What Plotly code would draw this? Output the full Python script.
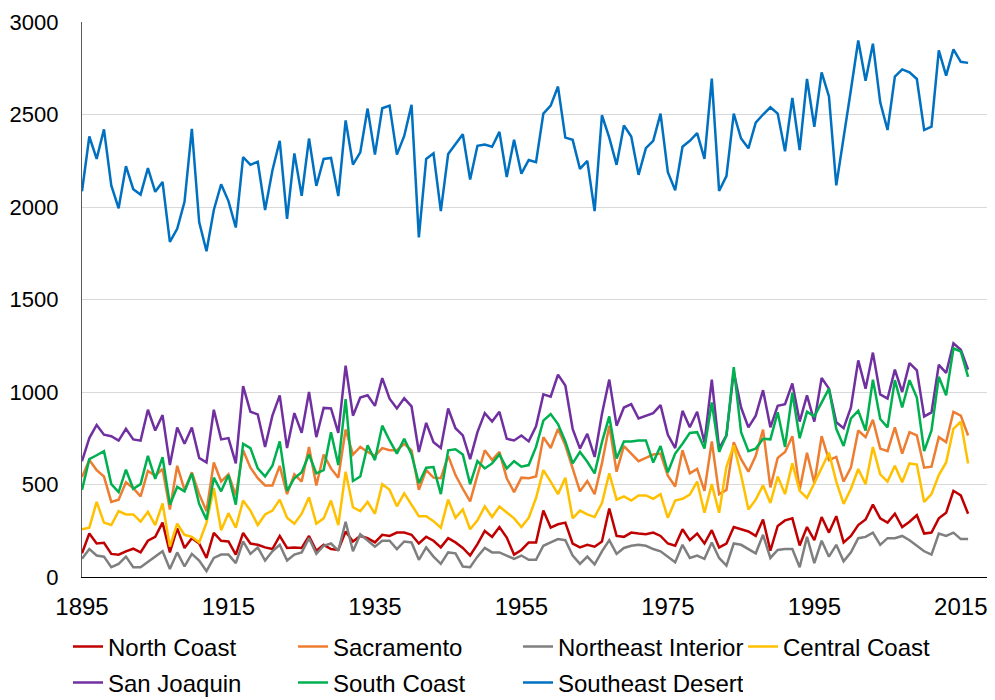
import plotly.graph_objects as go

years = list(range(1895, 2017))

north_coast = [128, 235, 181, 185, 125, 121, 139, 153, 133, 196, 217, 294, 133, 263, 157, 210, 181, 103, 238, 196, 192, 121, 238, 181, 174,
               160, 151, 222, 157, 160, 157, 222, 142, 174, 151, 146, 246, 192, 222, 210, 187, 228, 222, 240, 240, 228, 181, 217, 196, 160,
               210, 187, 157, 116, 178, 249, 217, 270, 213, 121, 146, 187, 187, 359, 267, 285, 294, 181, 160, 174, 164, 192, 370, 222,
               217, 240, 235, 231, 240, 222, 181, 169, 258, 199, 235, 181, 253, 160, 181, 270, 258, 246, 222, 311, 142, 276, 306, 317, 170,
               270, 199, 324, 240, 329, 187, 222, 281, 311, 391, 317, 294, 342, 270, 299, 334, 235, 240, 317, 347, 466, 441, 342]

sacramento = [540, 632, 578, 543, 406, 418, 512, 480, 436, 573, 548, 584, 365, 601, 471, 566, 448, 356, 619, 516, 555, 441, 685, 591, 534,
              495, 495, 601, 448, 555, 516, 703, 495, 662, 587, 537, 797, 662, 703, 676, 655, 697, 685, 685, 720, 685, 471, 578, 537, 534,
              655, 551, 477, 409, 551, 685, 632, 676, 534, 459, 537, 534, 543, 756, 697, 801, 712, 587, 463, 519, 448, 614, 818, 569,
              708, 667, 626, 644, 662, 667, 548, 489, 685, 560, 584, 466, 733, 448, 471, 729, 637, 569, 655, 797, 484, 644, 676, 761, 471,
              672, 507, 761, 632, 649, 516, 591, 792, 756, 850, 694, 680, 809, 667, 783, 765, 591, 596, 756, 729, 893, 872, 765]

northeast_interior = [98, 151, 116, 110, 53, 71, 110, 53, 53, 82, 110, 139, 43, 133, 57, 125, 89, 32, 103, 121, 121, 75, 192, 125, 160,
                      89, 139, 174, 89, 121, 133, 210, 125, 169, 181, 142, 299, 139, 231, 196, 164, 196, 196, 151, 192, 187, 93, 160, 110, 71,
                      133, 128, 57, 53, 110, 157, 133, 133, 116, 98, 116, 93, 93, 169, 187, 205, 199, 116, 71, 110, 68, 139, 199, 125,
                      157, 169, 174, 169, 151, 139, 110, 80, 174, 103, 116, 98, 187, 103, 62, 181, 174, 151, 128, 228, 103, 146, 151, 151, 53,
                      217, 75, 196, 110, 174, 85, 133, 210, 217, 240, 174, 210, 210, 222, 199, 169, 139, 121, 235, 222, 240, 205, 205]

central_coast = [258, 267, 406, 294, 281, 356, 338, 338, 299, 352, 281, 398, 164, 288, 228, 217, 187, 294, 480, 253, 345, 267, 413, 359, 281,
                 338, 359, 418, 320, 288, 342, 431, 288, 317, 413, 281, 569, 377, 356, 406, 342, 502, 471, 382, 452, 391, 329, 329, 302, 267,
                 418, 320, 365, 258, 306, 381, 324, 381, 347, 317, 270, 320, 427, 578, 516, 448, 537, 317, 359, 338, 324, 400, 560, 418,
                 436, 413, 441, 441, 423, 448, 320, 413, 423, 445, 516, 347, 502, 347, 596, 712, 551, 365, 418, 495, 400, 543, 448, 614, 466,
                 427, 507, 587, 672, 516, 395, 477, 584, 502, 703, 555, 516, 601, 512, 614, 608, 406, 448, 551, 619, 801, 840, 614]

san_joaquin = [626, 751, 822, 769, 761, 737, 801, 744, 737, 904, 792, 875, 605, 808, 720, 808, 644, 619, 904, 744, 751, 614, 1032, 893, 879,
               703, 872, 982, 697, 886, 779, 1000, 756, 914, 911, 779, 1142, 872, 970, 982, 925, 1075, 964, 911, 966, 922, 676, 833, 729, 697,
               911, 804, 765, 637, 783, 886, 840, 893, 747, 738, 765, 733, 815, 987, 975, 1094, 1035, 801, 694, 774, 649, 881, 1067, 818,
               916, 934, 857, 872, 886, 929, 769, 697, 898, 809, 893, 726, 1067, 694, 765, 1110, 916, 809, 872, 1010, 809, 925, 934, 1046, 840,
               982, 840, 1076, 1018, 836, 804, 916, 1171, 1018, 1213, 987, 964, 1121, 1000, 1156, 1117, 868, 890, 1147, 1103, 1263, 1228, 1121]

south_coast = [471, 637, 658, 680, 502, 459, 580, 477, 502, 655, 530, 648, 391, 487, 463, 559, 395, 310, 537, 463, 551, 391, 720, 697, 587,
               543, 601, 733, 466, 534, 566, 662, 560, 578, 783, 605, 961, 519, 543, 712, 632, 818, 738, 667, 747, 662, 507, 591, 594, 448,
               685, 690, 662, 502, 626, 587, 614, 662, 587, 626, 596, 605, 703, 845, 881, 827, 733, 614, 676, 623, 560, 729, 868, 640,
               733, 733, 738, 738, 619, 708, 566, 667, 720, 779, 783, 694, 943, 676, 765, 1135, 783, 680, 694, 747, 744, 890, 703, 996, 750,
               893, 868, 943, 1018, 801, 708, 857, 898, 792, 1067, 854, 809, 1064, 916, 1064, 970, 680, 792, 1082, 982, 1236, 1219, 1082]

southeast_desert = [2085, 2381, 2260, 2420, 2117, 1993, 2221, 2096, 2067, 2210, 2082, 2135, 1811, 1882, 2028, 2423, 1918, 1761, 1984, 2123,
                    2032, 1889, 2270, 2228, 2245, 1984, 2197, 2358, 1936, 2290, 2060, 2370, 2114, 2260, 2265, 2059, 2468, 2229, 2295, 2532,
                    2283, 2534, 2548, 2283, 2384, 2552, 1836, 2260, 2290, 1978, 2286, 2340, 2393, 2149, 2331, 2338, 2326, 2406, 2162, 2363,
                    2180, 2254, 2242, 2505, 2548, 2651, 2375, 2363, 2206, 2249, 1978, 2496, 2375, 2228, 2441, 2381, 2174, 2318, 2358, 2505,
                    2188, 2091, 2326, 2358, 2399, 2260, 2694, 2087, 2167, 2505, 2370, 2317, 2456, 2500, 2539, 2505, 2301, 2589, 2308, 2692,
                    2434, 2728, 2598, 2117, 2367, 2634, 2900, 2682, 2883, 2566, 2416, 2705, 2744, 2728, 2692, 2416, 2434, 2847, 2710, 2852,
                    2785, 2779]

series_names = ["North Coast", "Sacramento", "Northeast Interior", "Central Coast",
                "San Joaquin", "South Coast", "Southeast Desert"]
series_values = [north_coast, sacramento, northeast_interior, central_coast,
                 san_joaquin, south_coast, southeast_desert]
series_colors = ["#C00000", "#ED7D31", "#7F7F7F", "#FFC000", "#7030A0", "#00B050", "#0070C0"]

x_tick_vals = [1895, 1915, 1935, 1955, 1975, 1995, 2015]
y_tick_vals = [0, 500, 1000, 1500, 2000, 2500, 3000]

FONT = "Liberation Sans, Arial, sans-serif"

# the page body adds an 8px offset, so the figure is sized to fit the window
W, H = 987, 692

fig = go.Figure()
for i, (name, vals, col) in enumerate(zip(series_names, series_values, series_colors)):
    assert len(vals) == len(years), (name, len(vals))
    fig.add_trace(go.Scatter(
        x=years, y=vals, name=name, mode="lines",
        line=dict(color=col, width=2.5),
        legend="legend" if i < 4 else "legend2",
    ))

legend_common = dict(
    orientation="h", xref="container", yref="container",
    x=60 / W, xanchor="left", yanchor="middle",
    font=dict(family=FONT, size=24, color="#000000"),
    entrywidth=180, entrywidthmode="pixels",
    bgcolor="rgba(0,0,0,0)", itemclick=False, tracegroupgap=0,
)

fig.update_layout(
    width=W, height=H,
    margin=dict(l=74, r=2, t=11, b=123),
    paper_bgcolor="white", plot_bgcolor="white",
    font=dict(family=FONT, color="#000000"),
    showlegend=True,
    legend=dict(legend_common, y=1 - 639 / H),
    legend2=dict(legend_common, y=1 - 675 / H),
    xaxis=dict(
        range=[1895, 2019.4], tickmode="array", tickvals=x_tick_vals,
        ticktext=[str(v) for v in x_tick_vals],
        showgrid=False, zeroline=False,
        showline=True, linecolor="#000000", linewidth=1.2,
        ticks="outside", ticklen=8, tickcolor="rgba(0,0,0,0)",
        tickfont=dict(family=FONT, size=24, color="#000000"),
        ticklabeloverflow="allow",
    ),
    yaxis=dict(
        range=[0, 3000], tickmode="array", tickvals=y_tick_vals,
        ticktext=[str(v) for v in y_tick_vals],
        showgrid=True, gridcolor="#D9D9D9", gridwidth=1,
        zeroline=False,
        showline=True, linecolor="#595959", linewidth=1.2,
        ticks="outside", ticklen=18, tickcolor="rgba(0,0,0,0)",
        tickfont=dict(family=FONT, size=22, color="#000000"),
        ticklabeloverflow="allow",
    ),
)

fig.write_html("out.html")
